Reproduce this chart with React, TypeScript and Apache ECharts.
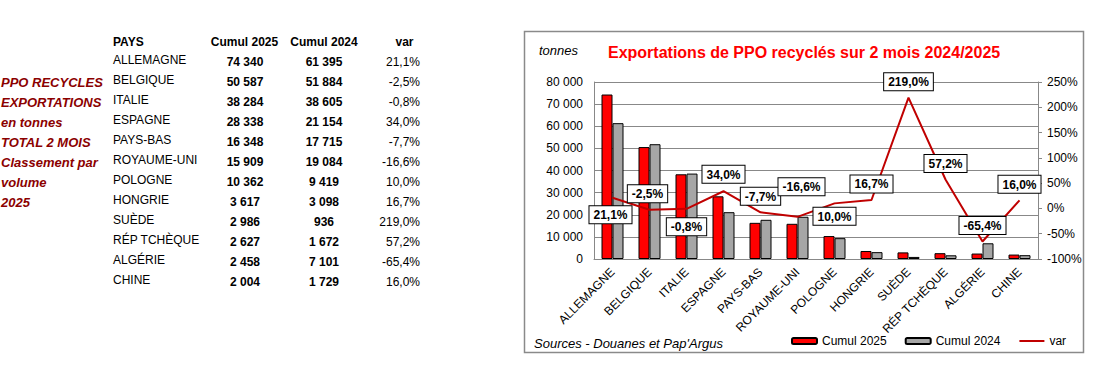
import React, { useEffect, useRef } from "react";
import * as echarts from "echarts";

const countries = ["ALLEMAGNE", "BELGIQUE", "ITALIE", "ESPAGNE", "PAYS-BAS", "ROYAUME-UNI", "POLOGNE", "HONGRIE", "SUÈDE", "RÉP TCHÈQUE", "ALGÉRIE", "CHINE"];
const cumul2025 = [74340, 50587, 38284, 28338, 16348, 15909, 10362, 3617, 2986, 2627, 2458, 2004];
const cumul2024 = [61395, 51884, 38605, 21154, 17715, 19084, 9419, 3098, 936, 1672, 7101, 1729];
const variation = [21.1, -2.5, -0.8, 34.0, -7.7, -16.6, 10.0, 16.7, 219.0, 57.2, -65.4, 16.0];
const sideNotes = ["PPO RECYCLES", "EXPORTATIONS", "en tonnes", "TOTAL 2 MOIS", "Classement par", "volume", "2025"];
const tableHeaders = ["PAYS", "Cumul 2025", "Cumul 2024", "var"];
const chartTitle = "Exportations de PPO recyclés sur 2 mois 2024/2025";

const FONT = '"Liberation Sans", Arial, sans-serif';

const fmtNum = (n: number) => String(n).replace(/\B(?=(\d{3})+(?!\d))/g, " ");
const fmtPct = (v: number) => v.toFixed(1).replace(".", ",") + "%";

// label placement for the var labels (style only)
const labelPlace: Array<[string, number, number]> = [
  ["bottom", 8, -2],
  ["top", 7, -2],
  ["bottom", 9, 0],
  ["top", 8, 0],
  ["top", 7, 0],
  ["top", 21, 4],
  ["bottom", 4, 0],
  ["top", 7, 0],
  ["top", 7, 0],
  ["top", 7, 0],
  ["top", 7, 0],
  ["top", 7, 0],
];

function txt(text: string, x: number, y: number, opts: any = {}) {
  return {
    type: "text",
    x,
    y,
    style: {
      text,
      fontFamily: FONT,
      fontSize: opts.fontSize ?? 12,
      fontWeight: opts.fontWeight ?? "normal",
      fontStyle: opts.fontStyle ?? "normal",
      fill: opts.fill ?? "#000",
      align: opts.align ?? "left",
      verticalAlign: "middle",
    },
  };
}

export default function App() {
  const ref = useRef<HTMLDivElement>(null);
  useEffect(() => {
    if (!ref.current) return;
    const chart = echarts.init(ref.current, null, { renderer: "svg" });

    const graphics: any[] = [];
    graphics.push({
      type: "rect",
      shape: { x: 524.5, y: 31.5, width: 559, height: 321 },
      style: { fill: "none", stroke: "#8a8a8a", lineWidth: 1.5 },
      z: 0,
    });
    graphics.push(txt(chartTitle, 608, 52, { fontSize: 16, fontWeight: "bold", fill: "#ff0000" }));
    graphics.push(txt("tonnes", 539, 50, { fontSize: 13, fontStyle: "italic" }));
    graphics.push(txt("Sources - Douanes et Pap'Argus", 534, 343, { fontSize: 13, fontStyle: "italic" }));

    sideNotes.forEach((s, i) => {
      graphics.push(txt(s, 1, 82 + i * 20, { fontSize: 13, fontWeight: "bold", fontStyle: "italic", fill: "#8b0000" }));
    });

    graphics.push(txt(tableHeaders[0], 113, 42, { fontWeight: "bold" }));
    graphics.push(txt(tableHeaders[1], 244.5, 42, { fontWeight: "bold", align: "center" }));
    graphics.push(txt(tableHeaders[2], 324, 42, { fontWeight: "bold", align: "center" }));
    graphics.push(txt(tableHeaders[3], 404.5, 42, { fontWeight: "bold", align: "center" }));

    countries.forEach((c, i) => {
      const y = 60 + i * 20;
      graphics.push(txt(c, 113, y));
      graphics.push(txt(fmtNum(cumul2025[i]), 245, y + 1.5, { fontWeight: "bold", align: "center" }));
      graphics.push(txt(fmtNum(cumul2024[i]), 324, y + 1.5, { fontWeight: "bold", align: "center" }));
      graphics.push(txt(fmtPct(variation[i]), 420, y + 1.5, { align: "right" }));
    });

    const option: any = {
      animation: false,
      textStyle: { fontFamily: FONT },
      grid: { left: 594, top: 82, width: 444, height: 177, containLabel: false, outerBoundsMode: "none" },
      legend: {
        left: 786,
        top: 330,
        itemGap: 18,
        itemWidth: 25,
        itemHeight: 6,
        textStyle: { fontSize: 12, color: "#000", fontFamily: FONT },
        data: ["Cumul 2025", "Cumul 2024", "var"],
      },
      xAxis: {
        type: "category",
        data: countries,
        axisLine: { show: true, lineStyle: { color: "#888", width: 1 } },
        axisTick: { show: false },
        axisLabel: { rotate: 45, fontSize: 12, color: "#000", margin: 11, interval: 0, fontFamily: FONT },
      },
      yAxis: [
        {
          type: "value",
          min: 0,
          max: 80000,
          interval: 10000,
          axisLine: { show: true, lineStyle: { color: "#888" } },
          axisTick: { show: false },
          splitLine: { show: true, lineStyle: { color: "#888", width: 1 } },
          axisLabel: { fontSize: 12, color: "#000", margin: 11, formatter: (v: number) => fmtNum(v), fontFamily: FONT },
        },
        {
          type: "value",
          min: -100,
          max: 250,
          interval: 50,
          axisLine: { show: true, lineStyle: { color: "#888" } },
          axisTick: { show: true, inside: false, length: 4, lineStyle: { color: "#888" } },
          splitLine: { show: false },
          axisLabel: { fontSize: 12, color: "#000", margin: 9, formatter: (v: number) => v + "%", fontFamily: FONT },
        },
      ],
      series: [
        {
          name: "Cumul 2025",
          type: "bar",
          data: cumul2025,
          barWidth: 11,
          barGap: "0%",
          itemStyle: { color: "#ff0000", borderColor: "#000", borderWidth: 1 },
        },
        {
          name: "Cumul 2024",
          type: "bar",
          data: cumul2024,
          barWidth: 11,
          barGap: "0%",
          itemStyle: { color: "#a6a6a6", borderColor: "#000", borderWidth: 1 },
        },
        {
          name: "var",
          type: "line",
          yAxisIndex: 1,
          data: variation.map((v, i) => ({
            value: v,
            label: {
              position: labelPlace[i][0],
              distance: labelPlace[i][1],
              offset: [labelPlace[i][2], 0],
            },
          })),
          symbol: "circle",
          symbolSize: 1,
          showSymbol: true,
          lineStyle: { color: "#c00000", width: 2 },
          itemStyle: { color: "rgba(192,0,0,0)" },
          label: {
            show: true,
            formatter: (p: any) => fmtPct(p.value),
            fontSize: 12,
            fontWeight: "bold",
            color: "#000",
            backgroundColor: "#fff",
            borderColor: "#000",
            borderWidth: 1,
            padding: [3, 4, 2, 4],
            fontFamily: FONT,
          },
          z: 5,
        },
      ],
      graphic: graphics,
    };
    chart.setOption(option);
    return () => chart.dispose();
  }, []);
  return <div ref={ref} style={{ position: "fixed", left: 0, top: 0, width: 1110, height: 376, background: "#fff" }} />;
}
